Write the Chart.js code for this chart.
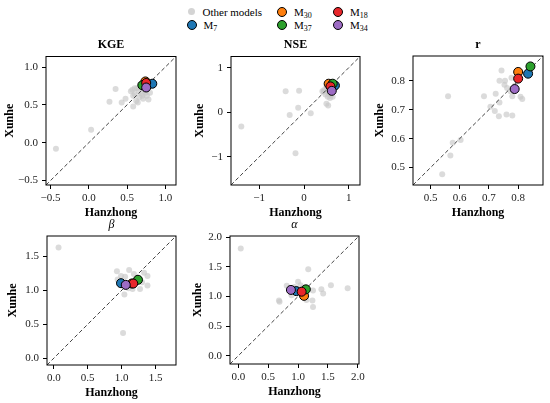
<!DOCTYPE html>
<html>
<head>
<meta charset="utf-8">
<script src="https://cdn.jsdelivr.net/npm/chart.js@4.4.1/dist/chart.umd.min.js"></script>
<style>
  body { margin: 0; width: 550px; height: 403px; overflow: hidden; position: relative; background: #fff; font-family: 'Liberation Serif', serif; }
  canvas { position: absolute; }
  .lg { position: absolute; font-size: 11px; color: #000; line-height: 12px; white-space: nowrap; }
  .lg i { position: absolute; border-radius: 50%; box-sizing: border-box; }
  .lg span { position: absolute; top: -6px; }
  sub { font-size: 8px; vertical-align: -2px; }
</style>
</head>
<body>
<div id="legend"></div>
<canvas id="kge"></canvas>
<canvas id="nse"></canvas>
<canvas id="r"></canvas>
<canvas id="beta"></canvas>
<canvas id="alpha"></canvas>
<script>
// model order: M7, M30, M37, M18, M34
const modelNames = ['M<sub>7</sub>', 'M<sub>30</sub>', 'M<sub>37</sub>', 'M<sub>18</sub>', 'M<sub>34</sub>'];
const modelColors = ['#1f77b4', '#ff7f0e', '#2ca02c', '#e8262a', '#9d6cc4'];

// KGE  (Hz = Hanzhong, Xh = Xunhe)
const kgeOtherHz = [-0.43, 0.03, 0.27, 0.35, 0.43, 0.48, 0.55, 0.57, 0.58, 0.60, 0.62, 0.63, 0.65, 0.66, 0.68, 0.70, 0.72, 0.74, 0.76, 0.78, 0.80, 0.60, 0.64, 0.69, 0.71, 0.67, 0.58, 0.75];
const kgeOtherXh = [-0.08, 0.17, 0.54, 0.71, 0.53, 0.58, 0.68, 0.70, 0.48, 0.64, 0.55, 0.72, 0.68, 0.60, 0.74, 0.62, 0.70, 0.66, 0.62, 0.57, 0.66, 0.72, 0.53, 0.65, 0.58, 0.77, 0.62, 0.70];
const kgeModelHz = [0.83, 0.74, 0.70, 0.75, 0.75];
const kgeModelXh = [0.78, 0.81, 0.76, 0.79, 0.73];
const kgeTicks = [-0.5, 0.0, 0.5, 1.0];

// NSE
const nseOtherHz = [-1.40, -0.41, -0.11, -0.32, -0.13, 0.15, -0.19, 0.50, 0.54, 0.58, 0.41, 0.45, 0.52, 0.55, 0.60, 0.48, 0.62, 0.57, 0.50, 0.63, 0.53, 0.58, 0.66, 0.60, 0.55, 0.64, 0.44];
const nseOtherXh = [-0.32, 0.47, 0.48, -0.06, 0.10, -0.02, -0.92, 0.19, 0.15, 0.32, 0.47, 0.50, 0.55, 0.42, 0.38, 0.40, 0.52, 0.60, 0.58, 0.45, 0.35, 0.50, 0.55, 0.62, 0.64, 0.35, 0.46];
const nseModelHz = [0.69, 0.55, 0.64, 0.59, 0.62];
const nseModelXh = [0.60, 0.64, 0.64, 0.58, 0.48];
const nseTicks = [-1, 0, 1];

// r
const rOtherHz = [0.54, 0.56, 0.568, 0.576, 0.603, 0.683, 0.72, 0.723, 0.736, 0.734, 0.743, 0.736, 0.753, 0.76, 0.762, 0.78, 0.78, 0.774, 0.808, 0.814, 0.777, 0.755, 0.79, 0.705];
const rOtherXh = [0.477, 0.746, 0.542, 0.586, 0.595, 0.746, 0.695, 0.755, 0.725, 0.677, 0.835, 0.80, 0.786, 0.683, 0.775, 0.68, 0.746, 0.763, 0.744, 0.737, 0.81, 0.80, 0.783, 0.71];
const rModelHz = [0.834, 0.80, 0.842, 0.80, 0.788];
const rModelXh = [0.824, 0.83, 0.849, 0.807, 0.771];
const rTicks = [0.5, 0.6, 0.7, 0.8];

// beta
const betaOtherHz = [0.07, 1.02, 0.93, 1.11, 1.18, 1.33, 1.38, 1.26, 0.99, 0.94, 1.16, 1.04, 1.27, 1.38, 1.21, 1.05, 1.30, 1.10];
const betaOtherXh = [1.63, 0.37, 1.28, 1.30, 1.24, 1.26, 1.21, 1.16, 1.21, 1.16, 1.02, 0.94, 1.02, 1.07, 1.14, 1.20, 1.12, 1.03];
const betaModelHz = [0.99, 1.15, 1.24, 1.17, 1.06];
const betaModelXh = [1.105, 1.10, 1.155, 1.10, 1.08];
const betaTicks = [0.0, 0.5, 1.0, 1.5];

// alpha
const alphaOtherHz = [0.04, 1.17, 1.55, 1.83, 1.39, 1.42, 1.25, 1.24, 1.25, 0.69, 0.68, 0.81, 1.00, 1.04, 1.08, 1.11, 0.89, 1.14, 0.94, 0.86];
const alphaOtherXh = [1.81, 1.46, 1.19, 1.14, 1.12, 1.05, 1.10, 0.93, 0.82, 0.91, 0.93, 1.18, 1.25, 1.19, 1.15, 1.01, 1.02, 0.94, 1.16, 1.14];
const alphaModelHz = [0.97, 1.10, 1.13, 1.06, 0.88];
const alphaModelXh = [1.09, 1.01, 1.12, 1.08, 1.11];
const alphaTicks = [0.0, 0.5, 1.0, 1.5, 2.0];

const FONT = "'Liberation Serif', 'Times New Roman', serif";

// legend (html)
const legend = document.getElementById('legend');
function legendItem(cx, cy, label, color, other) {
  const d = document.createElement('div');
  d.className = 'lg';
  d.style.left = cx + 'px';
  d.style.top = cy + 'px';
  const m = document.createElement('i');
  const s = other ? 7 : 10;
  m.style.width = s + 'px'; m.style.height = s + 'px';
  m.style.left = (-s / 2) + 'px'; m.style.top = (-s / 2) + 'px';
  m.style.background = color;
  if (!other) m.style.border = '1px solid #000';
  const t = document.createElement('span');
  t.style.left = (other ? 11 : 12) + 'px';
  t.innerHTML = label;
  d.appendChild(m); d.appendChild(t);
  legend.appendChild(d);
}
legendItem(191.5, 11.5, 'Other models', '#d4d4d4', true);
const legendPos = [[191.5, 25], [282, 11.5], [282, 25], [338, 11.5], [338, 25]];
modelNames.forEach((n, i) => legendItem(legendPos[i][0], legendPos[i][1], n, modelColors[i], false));

const boxBorder = {
  id: 'boxBorder',
  afterDatasetsDraw(chart) {
    const { ctx, chartArea: a } = chart;
    ctx.save();
    ctx.strokeStyle = '#000';
    ctx.lineWidth = 1;
    ctx.strokeRect(a.left, a.top, a.right - a.left, a.bottom - a.top);
    ctx.restore();
  }
};

const pts = (xs, ys) => xs.map((v, i) => ({ x: v, y: ys[i] }));
const fmt1 = v => v.toFixed(1).replace('-', '\u2212');
const fmt0 = v => String(v).replace('-', '\u2212');

function makePanel(id, p) {
  const TITLE_H = 12 * 1.2 + 4;
  const cl = Math.round(p.l - 46), ct = Math.round(p.t - 32);
  const cw = Math.round(p.r - cl + p.padR), ch = Math.round(p.b - ct + 36);
  const cv = document.getElementById(id);
  cv.width = cw; cv.height = ch;
  cv.style.left = cl + 'px'; cv.style.top = ct + 'px';
  cv.style.width = cw + 'px'; cv.style.height = ch + 'px';

  const datasets = [{
    data: pts(p.otherHz, p.otherXh),
    backgroundColor: 'rgba(200,200,200,0.65)',
    borderWidth: 0, pointRadius: 3, order: 7
  }, {
    data: [{ x: p.lim[0], y: p.lim[0] }, { x: p.lim[1], y: p.lim[1] }],
    showLine: true, borderColor: '#444', borderWidth: 1, borderDash: [4, 2.5],
    pointRadius: 0, order: 6
  }];
  p.modelHz.forEach((v, i) => {
    datasets.push({
      data: [{ x: v, y: p.modelXh[i] }],
      backgroundColor: modelColors[i], borderColor: '#000', borderWidth: 1,
      pointRadius: 4.5, order: 5 - i
    });
  });

  const axis = (ticks, fmt, title, padTitle, isX) => ({
    type: 'linear', min: p.lim[0], max: p.lim[1],
    afterBuildTicks: s => { s.ticks = ticks.map(v => ({ value: v })); },
    afterFit: s => { if (isX) s.height = ct + ch - p.b; else s.width = p.l - cl; },
    grid: { drawOnChartArea: false, drawTicks: true, tickLength: 4, tickColor: '#000' },
    border: { display: false },
    ticks: { callback: fmt, color: '#222', font: { family: FONT, size: 11 }, padding: isX ? 3 : 4, maxRotation: 0 },
    title: { display: true, text: title, color: '#000', font: { family: FONT, size: 12, weight: 'bold' },
      padding: isX ? { top: 0, bottom: 1 } : { top: padTitle, bottom: 0 } }
  });

  new Chart(cv, {
    type: 'scatter',
    data: { datasets },
    options: {
      responsive: false, animation: false, devicePixelRatio: 1,
      layout: { padding: { top: p.t - ct - TITLE_H, right: p.padR, bottom: 0, left: 0 } },
      plugins: {
        legend: { display: false }, tooltip: { enabled: false },
        title: { display: true, fullSize: false, text: p.title, color: '#000', padding: { top: 0, bottom: 4 },
          font: { family: FONT, size: 12, weight: p.italic ? 'normal' : 'bold', style: p.italic ? 'italic' : 'normal' } }
      },
      scales: {
        x: axis(p.ticks, p.fmt, 'Hanzhong', 0, true),
        y: axis(p.ticks, p.fmt, 'Xunhe', p.yPad, false)
      }
    },
    plugins: [boxBorder]
  });
}

makePanel('kge', { title: 'KGE', l: 46, t: 56.5, r: 176, b: 185, padR: 8, lim: [-0.56, 1.14], ticks: kgeTicks, fmt: fmt1, yPad: 3,
  otherHz: kgeOtherHz, otherXh: kgeOtherXh, modelHz: kgeModelHz, modelXh: kgeModelXh });
makePanel('nse', { title: 'NSE', l: 231, t: 56.5, r: 360, b: 185, padR: 8, lim: [-1.63, 1.25], ticks: nseTicks, fmt: fmt0, yPad: 8,
  otherHz: nseOtherHz, otherXh: nseOtherXh, modelHz: nseModelHz, modelXh: nseModelXh });
makePanel('r', { title: 'r', l: 413, t: 56, r: 543, b: 185, padR: 6, lim: [0.44, 0.885], ticks: rTicks, fmt: fmt1, yPad: 6,
  otherHz: rOtherHz, otherXh: rOtherXh, modelHz: rModelHz, modelXh: rModelXh });
makePanel('beta', { title: 'β', italic: true, l: 47, t: 236, r: 176, b: 365, padR: 8, lim: [-0.1, 1.8], ticks: betaTicks, fmt: fmt1, yPad: 4.5,
  otherHz: betaOtherHz, otherXh: betaOtherXh, modelHz: betaModelHz, modelXh: betaModelXh });
makePanel('alpha', { title: 'α', italic: true, l: 230, t: 236, r: 359, b: 364, padR: 12, lim: [-0.14, 2.02], ticks: alphaTicks, fmt: fmt1, yPad: 7,
  otherHz: alphaOtherHz, otherXh: alphaOtherXh, modelHz: alphaModelHz, modelXh: alphaModelXh });
</script>
</body>
</html>
